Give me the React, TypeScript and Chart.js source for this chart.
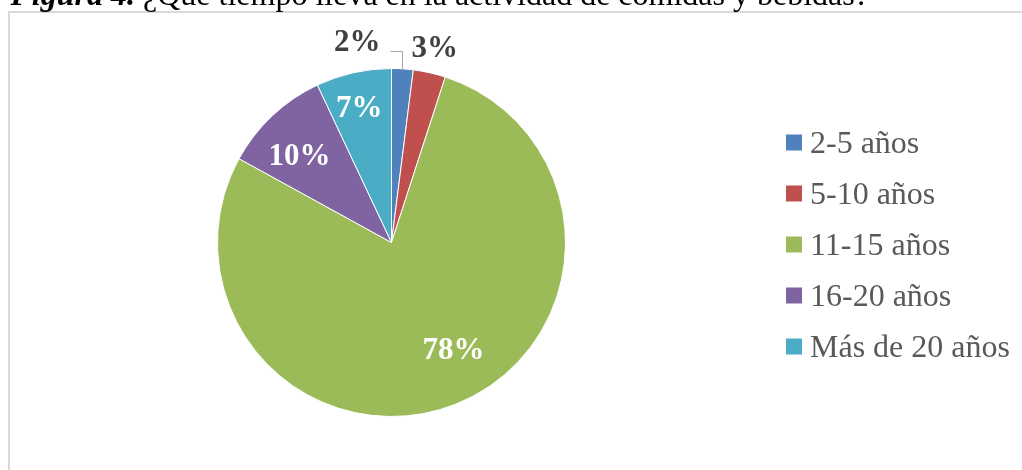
import React, { useEffect, useRef } from "react";
import { Chart, registerables } from "chart.js";

Chart.register(...registerables);

const categories = ["2-5 años", "5-10 años", "11-15 años", "16-20 años", "Más de 20 años"];
const values = [2, 3, 78, 10, 7];
const colors = ["#4F81BD", "#C0504D", "#9BBB59", "#8064A2", "#4BACC6"];
const titleBold = "Figura 4.";
const titleText = "¿Qué tiempo lleva en la actividad de comidas y bebidas?";

const SERIF = '"Liberation Serif", "Times New Roman", serif';

const decorPlugin = {
  id: "decor",
  beforeDraw(chart: any) {
    const ctx = chart.ctx;
    ctx.save();
    ctx.fillStyle = "#ffffff";
    ctx.fillRect(0, 0, chart.width, chart.height);
    // frame
    ctx.strokeStyle = "#d9d9d9";
    ctx.lineWidth = 2;
    ctx.beginPath();
    ctx.moveTo(9, chart.height + 2);
    ctx.lineTo(9, 12);
    ctx.lineTo(chart.width + 2, 12);
    ctx.stroke();
    // title (cut at top)
    ctx.fillStyle = "#000000";
    ctx.textBaseline = "alphabetic";
    ctx.textAlign = "left";
    ctx.font = `bold italic 32px ${SERIF}`;
    const bw = ctx.measureText(titleBold + " ").width;
    const startX = 143;
    ctx.fillText(titleBold, startX - bw, 5);
    ctx.font = `32px ${SERIF}`;
    ctx.fillText(titleText, startX, 5);
    ctx.restore();
  },
  afterDraw(chart: any) {
    const ctx = chart.ctx;
    const meta = chart.getDatasetMeta(0);
    const total = values.reduce((a, b) => a + b, 0);
    ctx.save();
    ctx.font = `bold 31px ${SERIF}`;
    ctx.textBaseline = "middle";
    ctx.textAlign = "center";
    type L = { text: string; x: number; y: number; w: number; inside: boolean; ax: number; ay: number; moved: boolean };
    const labels: L[] = [];
    const deg = Math.PI / 180;
    meta.data.forEach((arc: any, i: number) => {
      const p = arc.getProps(["x", "y", "startAngle", "endAngle", "outerRadius"], true);
      const mid0 = (p.startAngle + p.endAngle) / 2;
      const pct = Math.round((values[i] / total) * 100);
      const text = pct + "%";
      const w = ctx.measureText(text).width;
      const inside = pct >= 5;
      // best-fit style tweak: large slices pull the label slightly back
      const mid = inside ? mid0 - (pct >= 50 ? 8 : pct >= 9 ? 4 : 1) * deg : mid0;
      const f = inside ? (pct >= 9 ? 0.72 : 0.79) : 1.14;
      labels.push({
        text,
        x: p.x + Math.cos(mid) * p.outerRadius * f,
        y: p.y + Math.sin(mid) * p.outerRadius * f,
        w,
        inside,
        ax: p.x + Math.cos(mid0) * p.outerRadius,
        ay: p.y + Math.sin(mid0) * p.outerRadius,
        moved: false,
      });
    });
    // resolve overlap of outside labels (shift earlier ones left)
    for (let i = labels.length - 2; i >= 0; i--) {
      const a = labels[i];
      const b = labels[i + 1];
      if (a.inside || b.inside) continue;
      if (a.x + a.w / 2 > b.x - b.w / 2) {
        a.x = b.x - b.w / 2 - 31 - a.w / 2;
        a.y = b.y - 6;
        a.moved = true;
      }
    }
    labels.forEach((l) => {
      if (l.moved) {
        ctx.strokeStyle = "#a6a6a6";
        ctx.lineWidth = 1;
        ctx.beginPath();
        const ly = Math.round(l.y + 8) + 0.5;
        const ex = Math.round(l.ax) + 0.5;
        ctx.moveTo(l.x + l.w / 2 + 10, ly);
        ctx.lineTo(ex, ly);
        ctx.lineTo(ex, l.ay + 1);
        ctx.stroke();
      }
      ctx.fillStyle = l.inside ? "#ffffff" : "#404040";
      ctx.fillText(l.text, l.x, l.y);
    });
    // legend
    ctx.font = `32px ${SERIF}`;
    ctx.textAlign = "left";
    ctx.textBaseline = "alphabetic";
    categories.forEach((c, i) => {
      const cy = 142.5 + i * 51;
      ctx.fillStyle = colors[i];
      ctx.fillRect(786, cy - 8, 16, 16);
      ctx.fillStyle = "#595959";
      ctx.fillText(c, 810, cy + 10);
    });
    ctx.restore();
  },
};

export default function App() {
  const ref = useRef<HTMLCanvasElement | null>(null);
  useEffect(() => {
    document.body.style.margin = "0";
    const chart = new Chart(ref.current as HTMLCanvasElement, {
      type: "pie",
      data: {
        labels: categories,
        datasets: [
          {
            data: values,
            backgroundColor: colors,
            borderColor: "#ffffff",
            borderWidth: 1,
          },
        ],
      },
      options: {
        animation: false,
        responsive: false,
        layout: { padding: { left: 217, top: 68, right: 456, bottom: 53 } },
        plugins: {
          legend: { display: false },
          tooltip: { enabled: false },
        },
      },
      plugins: [decorPlugin],
    });
    return () => chart.destroy();
  }, []);
  return (
    <div style={{ position: "absolute", left: 0, top: 0, width: 1022, height: 470 }}>
      <canvas ref={ref} width={1022} height={470} style={{ display: "block" }} />
    </div>
  );
}
